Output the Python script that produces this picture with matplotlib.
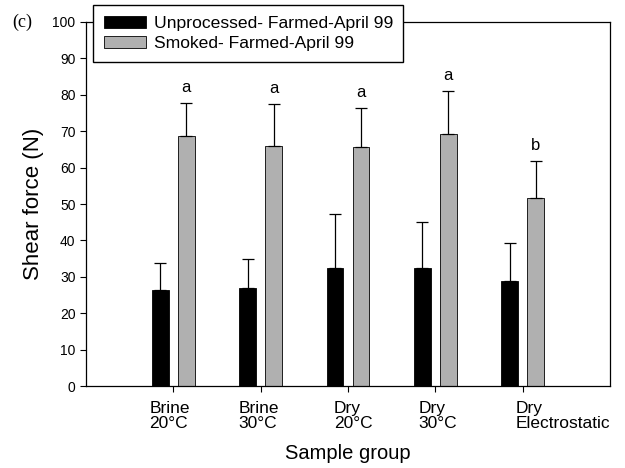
import matplotlib.pyplot as plt
import matplotlib.transforms as mtransforms
import numpy as np

plt.rcParams['font.family'] = ['Liberation Sans', 'DejaVu Sans']

groups = ['Brine\n20°C', 'Brine\n30°C', 'Dry\n20°C', 'Dry\n30°C', 'Dry\nElectrostatic']
unprocessed = [26.5, 27.0, 32.5, 32.3, 29.0]
unprocessed_err = [7.3, 8.0, 14.7, 12.7, 10.3]
smoked = [68.8, 66.0, 65.8, 69.2, 51.7]
smoked_err = [8.9, 11.5, 10.7, 11.8, 10.1]
letters = ['a', 'a', 'a', 'a', 'b']

x = np.arange(1, len(groups) + 1)
w = 0.19

fig = plt.figure(figsize=(6.25, 4.68), dpi=100)
ax = fig.add_axes([0.1376, 0.175, 0.8384, 0.778])

ax.bar(x - 0.15, unprocessed, w, color='black', edgecolor='black', linewidth=0.6,
       label='Unprocessed- Farmed-April 99')
ax.bar(x + 0.15, smoked, w, color='#b0b0b0', edgecolor='black', linewidth=0.6,
       label='Smoked- Farmed-April 99')
ax.errorbar(x - 0.15, unprocessed, yerr=[np.zeros(5), unprocessed_err], fmt='none',
            ecolor='black', elinewidth=0.9, capsize=4, capthick=0.9)
ax.errorbar(x + 0.15, smoked, yerr=[np.zeros(5), smoked_err], fmt='none',
            ecolor='black', elinewidth=0.9, capsize=4, capthick=0.9)

for xi, s, e, l in zip(x, smoked, smoked_err, letters):
    ax.text(xi + 0.15, s + e + 2.2, l, ha='center', va='bottom', fontsize=12)

ax.set_xlim(0, 6)
ax.set_ylim(0, 100)
ax.set_yticks(range(0, 101, 10))
ax.set_xticks(x)
ax.set_xticklabels(groups, fontsize=12.5, ha='left', multialignment='left',
                   linespacing=1.0)
ax.tick_params(axis='y', labelsize=10, direction='out', length=4, width=0.8)
ax.tick_params(axis='x', direction='out', length=4, width=0.8, pad=7)

# labels are left aligned, shifted left of each tick by a different amount
shifts = [-24, -22, -14, -17, -7]
for lab, s in zip(ax.get_xticklabels(), shifts):
    lab.set_transform(lab.get_transform() + mtransforms.ScaledTranslation(s / 100, 0, fig.dpi_scale_trans))

ax.set_ylabel('Shear force (N)', fontsize=16, labelpad=6)
ax.set_xlabel('Sample group', fontsize=14.5, labelpad=9)
for sp in ax.spines.values():
    sp.set_linewidth(0.9)

fig.text(0.02, 0.953, '(c)', fontsize=13, family='Liberation Serif', va='center')

fig.legend(loc='upper left', bbox_to_anchor=(0.149, 0.989), fontsize=12.6,
           frameon=True, fancybox=False, edgecolor='black', framealpha=1,
           borderaxespad=0, handlelength=2.4, handleheight=0.75, handletextpad=0.45,
           borderpad=0.6, labelspacing=0.25)

fig.savefig('out.png', dpi=100)
